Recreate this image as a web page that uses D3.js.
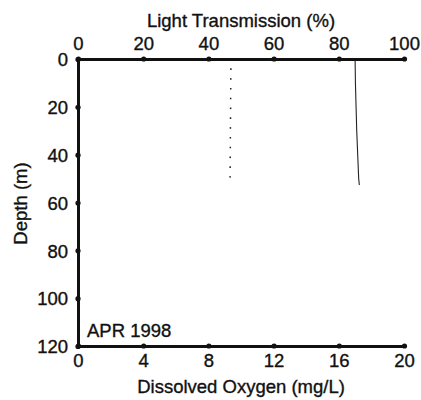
<!DOCTYPE html>
<html><head><meta charset="utf-8">
<script src="https://cdn.jsdelivr.net/npm/d3@7"></script>
<style>
body{margin:0;background:#fff;}
svg text{font-family:"Liberation Sans",Arial,Helvetica,sans-serif;fill:#111;stroke:#111;stroke-width:0.35px;}
</style></head>
<body><svg id="c" width="421" height="400"></svg>
<script>
// Data
const lightTicks = [0, 20, 40, 60, 80, 100];
const depthTicks = [0, 20, 40, 60, 80, 100, 120];
const oxygenTicks = [0, 4, 8, 12, 16, 20];
// Light transmission profile (solid line)
const lightDepth = [0, 10, 20, 30, 40, 50, 52.7];
const lightValue = [85.0, 85.1, 85.3, 85.5, 85.8, 86.1, 86.3];
// Dissolved oxygen profile (dotted line)
const oxyDepth = [3.9, 49.6];
const oxyValue = [9.38, 9.33];
const label = "APR 1998";

const svg = d3.select("#c");
const L = 78, R = 404, T = 59, B = 346;
const xLight = d3.scaleLinear().domain([0, 100]).range([L, R]);
const xOxy = d3.scaleLinear().domain([0, 20]).range([L, R]);
const y = d3.scaleLinear().domain([0, 120]).range([T, B]);
const fs = "18.5px";

// lines
const lightLine = d3.line().x(d => xLight(d[1])).y(d => y(d[0]));
svg.append("path").datum(lightDepth.map((d, i) => [d, lightValue[i]]))
  .attr("d", lightLine).attr("fill", "none").attr("stroke", "#222").attr("stroke-width", 1.1);
const oxyLine = d3.line().x(d => xOxy(d[1])).y(d => y(d[0]));
svg.append("path").datum(oxyDepth.map((d, i) => [d, oxyValue[i]]))
  .attr("d", oxyLine).attr("fill", "none").attr("stroke", "#222").attr("stroke-width", 1.5)
  .attr("stroke-dasharray", "1.6,8.2");

function styleAxis(g) {
  g.select(".domain").attr("stroke", "#111").attr("stroke-width", 3);
  g.selectAll(".tick line").remove();
  g.selectAll(".tick").append("circle").attr("r", 2.6).attr("fill", "#111");
  g.selectAll("text").attr("font-size", fs).attr("fill", "#111").attr("font-family", null);
}

const gTop = svg.append("g").attr("transform", `translate(0,${T})`)
  .call(d3.axisTop(xLight).tickValues(lightTicks).tickSize(0).tickPadding(9).tickSizeOuter(0));
styleAxis(gTop);
const gBot = svg.append("g").attr("transform", `translate(0,${B})`)
  .call(d3.axisBottom(xOxy).tickValues(oxygenTicks).tickSize(0).tickPadding(9).tickSizeOuter(0));
styleAxis(gBot);
gBot.selectAll("text").attr("dy", "0.65em");
const gLeft = svg.append("g").attr("transform", `translate(${L},0)`)
  .call(d3.axisLeft(y).tickValues(depthTicks).tickSize(0).tickPadding(10).tickSizeOuter(0));
styleAxis(gLeft);
gLeft.selectAll("text").attr("dy", "0.36em");

svg.append("text").attr("x", (L + R) / 2).attr("y", 27).attr("text-anchor", "middle")
  .attr("font-size", fs).text("Light Transmission (%)");
svg.append("text").attr("x", (L + R) / 2).attr("y", 393).attr("text-anchor", "middle")
  .attr("font-size", fs).text("Dissolved Oxygen (mg/L)");
svg.append("text").attr("transform", "translate(27,203.5) rotate(-90)").attr("text-anchor", "middle")
  .attr("font-size", fs).text("Depth (m)");
svg.append("text").attr("x", 87).attr("y", 337).attr("font-size", fs).text(label);
</script></body></html>
